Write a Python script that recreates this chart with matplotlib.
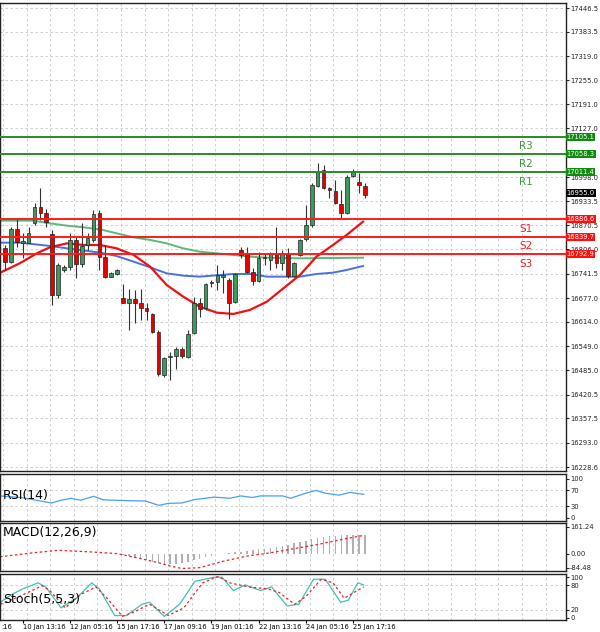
import matplotlib
matplotlib.use("Agg")
import matplotlib.pyplot as plt
import numpy as np

# OHLC candles (bar index = position in list)
opens  = [16808.9,16773.5,16859.3,16823.9,16823.9,16877.0,16917.6,16903.5,16846.9,16685.0,16751.4,16760.2,16831.0,16767.3,16817.7,16831.0,16901.7,16786.8,16733.7,16740.8,
          16676.2,16664.7,16673.6,16664.7,16649.7,16634.7,16587.8,16472.8,16519.7,16523.2,16541.8,16521.5,16583.4,16664.7,16649.7,16716.0,16720.4,16733.7,16724.9,16667.4,
          16804.5,16793.8,16747.0,16723.1,16782.3,16777.9,16793.8,16770.8,16793.8,16735.5,16791.2,16832.8,16870.8,16974.2,17016.7,16968.1,16961.0,16926.5,16901.7,17000.8,
          16985.7,16974.2]
highs  = [16817.7,16866.4,16885.8,16848.7,16866.4,16928.3,16968.1,16912.3,16857.5,16769.1,16764.7,16848.7,16839.8,16875.2,16848.7,16910.6,16910.6,16817.7,16747.0,16753.0,
          16714.3,16700.1,16698.3,16700.1,16663.0,16638.2,16592.2,16521.5,16534.7,16548.0,16548.0,16592.2,16680.7,16676.2,16716.0,16724.9,16764.7,16751.4,16729.3,16744.3,
          16813.3,16813.3,16755.8,16800.0,16795.6,16800.0,16866.4,16804.5,16808.9,16773.5,16832.8,16923.8,16981.3,17034.4,17030.0,16970.7,16990.2,16963.6,17003.4,17018.5,
          17007.8,16981.3]
lows   = [16751.4,16769.1,16813.3,16782.3,16822.1,16870.8,16884.0,16866.4,16658.6,16676.2,16747.0,16751.4,16729.3,16760.2,16804.5,16826.6,16751.4,16729.3,16731.9,16738.1,
          16663.0,16592.2,16611.7,16618.8,16618.8,16583.4,16470.2,16466.7,16459.6,16487.9,16517.0,16517.0,16581.6,16627.6,16645.3,16707.2,16698.3,16691.3,16620.6,16664.7,
          16782.3,16742.5,16711.6,16720.4,16764.7,16751.4,16755.8,16751.4,16729.3,16731.9,16788.5,16829.2,16866.4,16972.5,16965.4,16941.5,16926.5,16885.8,16899.9,16997.2,
          16956.6,16941.5]
closes = [16773.5,16859.3,16826.6,16829.2,16850.4,16919.4,16903.5,16879.6,16685.0,16764.7,16760.2,16831.0,16767.3,16815.1,16835.4,16899.9,16786.8,16733.7,16742.5,16751.4,
          16664.7,16673.6,16664.7,16649.7,16643.5,16587.8,16475.5,16517.0,16523.2,16541.8,16523.2,16581.6,16664.7,16647.1,16714.3,16720.4,16738.1,16738.1,16664.7,16740.8,
          16791.2,16747.0,16723.1,16782.3,16786.8,16793.8,16770.8,16793.8,16735.5,16770.8,16831.0,16870.8,16976.9,17012.3,16968.1,16963.6,16928.3,16901.7,16997.2,17014.9,
          16976.9,16950.4]

# Moving averages (bar index, price)
ma_red_idx = [-0.8,2.5,5.4,7.6,10.5,13.3,16.1,18.9,21.8,24.6,27.4,30.2,33,35.9,38.7,41.5,44.4,47.2,50,52.8,55.6,57.9,60.7]
ma_red = [16744.3,16769.1,16795.6,16811.5,16822.1,16817.7,16817.7,16808.9,16791.2,16760.2,16711.6,16680.7,16654.1,16638.2,16634.7,16645.3,16667.4,16702.8,16738.1,16786.8,16817.7,16844.2,16879.6]
ma_blue_idx = [-0.8,2.5,7.6,10.5,16.1,18.9,21.8,24.6,27.4,30.2,33,38.7,41.5,44.4,47.2,50,52.8,55.6,57.9,60.7]
ma_blue = [16823.9,16823.9,16815.1,16808.9,16797.4,16788.5,16773.5,16758.5,16742.5,16736.4,16733.7,16740.8,16740.8,16733.7,16733.7,16733.7,16740.8,16744.3,16751.4,16762.0]
ma_green_idx = [-0.8,4.8,7.6,10.5,13.3,16.1,18.9,21.8,24.6,27.4,30.2,33,35.9,38.7,41.5,44.4,50,55.6,60.7]
ma_green = [16882.3,16882.3,16875.2,16869.0,16864.6,16859.3,16848.7,16838.1,16831.0,16822.1,16808.9,16800.0,16795.6,16791.2,16786.8,16784.1,16782.3,16783.2,16784.1]

levels = {"R3": 17105.1, "R2": 17058.3, "R1": 17011.4, "S1": 16886.6, "S2": 16839.7, "S3": 16792.9}
last_price = 16955.0
price_ticks = [17446.5,17383.5,17319.0,17255.0,17191.0,17127.0,16998.0,16933.5,16870.5,16806.0,16741.5,16677.0,16614.0,16549.0,16485.0,16420.5,16357.5,16293.0,16228.6]

rsi_idx = [-0.85,2.7,7.9,9.5,11.2,12.8,15.0,16.7,20.6,23.8,26.1,27.7,30.0,32.2,35.5,38.1,40.0,41.9,43.3,47.1,48.4,51.0,52.7,54.3,56.6,58.5,60.8]
rsi = [56,52,38,45,50,45,55,46,44,43,32,37,38,47,53,50,56,52,56,56,50,63,70,63,58,65,60]

macd_hist = [0,0,0,0,0,0,0,0,0,0,0,0,0,0,0,0,0,0,-2,-5,
             -8,-15,-25,-32,-40,-48,-55,-60,-62,-60,-55,-48,-40,-30,-20,-12,-5,0,4,8,
             12,16,20,25,30,35,40,48,55,62,70,78,86,94,100,105,108,110,112,112,
             112,112]
macd_sig_idx = [-0.85,4.8,9.0,14.7,19.0,23.0,26.0,28.0,30.0,33.0,37.0,41.0,45.0,49.0,53.0,57.0,60.8]
macd_sig = [-19,5,20,10,0,-30,-55,-75,-90,-85,-46,-15,5,30,55,85,110]

stoch_idx = [-0.8,1.1,3.0,5.6,6.9,9.5,12.1,14.7,16.0,18.6,20.6,23.2,24.5,27.0,29.6,32.2,35.5,36.8,38.7,40.7,43.3,45.2,47.8,49.8,52.3,54.3,56.9,58.2,59.8,60.8]
stoch_k = [38,57,71,86,76,24,48,86,71,5,5,33,38,3,33,90,100,100,67,81,67,76,29,33,95,95,38,43,86,81]
stoch_d_idx = [-0.8,2.4,6.3,7.6,10.2,12.8,15.4,17.3,19.9,21.9,24.5,27.7,30.3,33.5,36.1,38.1,41.3,44.6,46.5,49.1,51.0,53.6,55.6,57.5,60.8]
stoch_d = [33,52,79,67,24,57,76,48,3,14,33,5,24,86,102,86,76,71,62,33,52,95,86,48,76]

date_labels = ["10 Jan 13:16","12 Jan 05:16","15 Jan 17:16","17 Jan 09:16","19 Jan 01:16","22 Jan 13:16","24 Jan 05:16","25 Jan 17:16"]
date_idx = [3,11,19,27,35,43,51,59]

W, H = 600, 632
fig = plt.figure(figsize=(W/100, H/100), dpi=100)
def ax_at(top, bottom, left=0, right=566):
    return fig.add_axes([left/W, 1-bottom/H, (right-left)/W, (bottom-top)/H])

XMIN, XMAX = -0.85, 95.1
GRID = dict(color="#c8c8c8", linestyle=(0, (3, 3)), linewidth=0.6)
RED = "#ff1a1a"; GREEN = "#2a8a2a"
FS = 4.9

def style(ax):
    ax.set_xlim(XMIN, XMAX)
    ax.yaxis.tick_right()
    ax.tick_params(axis="y", labelsize=FS, length=2, pad=1, colors="#222222")
    ax.tick_params(axis="x", bottom=False, labelbottom=False)
    for s in ax.spines.values():
        s.set_linewidth(1.0); s.set_color("#222222")
    for gx in np.arange(-0.35, XMAX, 4):
        ax.axvline(gx, zorder=0, **GRID)

ax = ax_at(3, 471)
style(ax)
ax.set_ylim(16218.0, 17459.8)
ax.set_yticks(price_ticks)
ax.set_yticklabels([f"{v:.1f}" for v in price_ticks])
for v in price_ticks:
    ax.axhline(v, zorder=0, **GRID)

for i, (o, h, l, c) in enumerate(zip(opens, highs, lows, closes)):
    col = "#3c9a5f" if c >= o else "#e60000"
    ax.vlines(i, l, h, color="#333333", linewidth=0.8, zorder=3)
    ax.bar(i, max(abs(c-o), 1.5), bottom=min(o, c), width=0.62, color=col,
           edgecolor="#222222", linewidth=0.5, zorder=4)

ax.plot(ma_green_idx, ma_green, color="#5cb87a", lw=1.4, zorder=2)
ax.plot(ma_blue_idx, ma_blue, color="#4a6fe0", lw=1.4, zorder=2)
ax.plot(ma_red_idx, ma_red, color="#ee1111", lw=1.6, zorder=2)

for name, v in levels.items():
    isR = name.startswith("R")
    col = GREEN if isR else RED
    ax.axhline(v, color=col, lw=1.4, zorder=5)
    ax.text(88.3, v - 12, name, color=("#3a9a3a" if isR else "#ee2222"), fontsize=7.5,
            ha="center", va="top", zorder=6)
    ax.text(XMAX + 0.1, v, f"{v:.1f}", fontsize=FS, color="white",
            ha="left", va="center", clip_on=False, zorder=7,
            bbox=dict(boxstyle="square,pad=0.15", facecolor=("#108a10" if isR else "#ff1010"), edgecolor="none"))
ax.text(XMAX + 0.1, last_price, f"{last_price:.1f}", fontsize=FS, color="white", ha="left",
        va="center", clip_on=False, zorder=7,
        bbox=dict(boxstyle="square,pad=0.15", facecolor="black", edgecolor="none"))

# RSI
a1 = ax_at(474, 521)
style(a1)
a1.set_ylim(-8, 112)
a1.set_yticks([0, 30, 70, 100])
for v in [30, 70]:
    a1.axhline(v, zorder=0, **GRID)
a1.plot(rsi_idx, rsi, color="#4a9ff0", lw=0.9)
a1.text(0.005, 0.55, "RSI(14)", transform=a1.transAxes, fontsize=9, va="center")

# MACD
a2 = ax_at(523, 571)
style(a2)
a2.set_ylim(-105, 185)
a2.set_yticks([-84.48, 0.0, 161.24])
a2.set_yticklabels(["-84.48", "0.00", "161.24"])
a2.bar(np.arange(len(macd_hist)), macd_hist, width=0.25, color="#b0b0b0")
a2.plot(macd_sig_idx, macd_sig, color="#ee2222", lw=0.9, linestyle=(0, (2, 2)))
a2.text(0.005, 0.8, "MACD(12,26,9)", transform=a2.transAxes, fontsize=9, va="center")

# Stochastic
a3 = ax_at(574, 620)
style(a3)
a3.set_ylim(-6, 108)
a3.set_yticks([0, 20, 80, 100])
for v in [20, 80]:
    a3.axhline(v, zorder=0, **GRID)
a3.plot(stoch_idx, stoch_k, color="#40c0b0", lw=0.9)
a3.plot(stoch_d_idx, stoch_d, color="#ee2222", lw=0.9, linestyle=(0, (2, 2)))
a3.text(0.005, 0.45, "Stoch(5,5,3)", transform=a3.transAxes, fontsize=9, va="center")

a3.tick_params(axis="x", bottom=True, labelbottom=True, labelsize=FS, length=2, pad=1)
a3.set_xticks(date_idx)
a3.set_xticklabels(date_labels, ha="left")
fig.text(1/W, 1-627/H, ":16", fontsize=FS, va="center")

fig.savefig("out.png", dpi=100)
